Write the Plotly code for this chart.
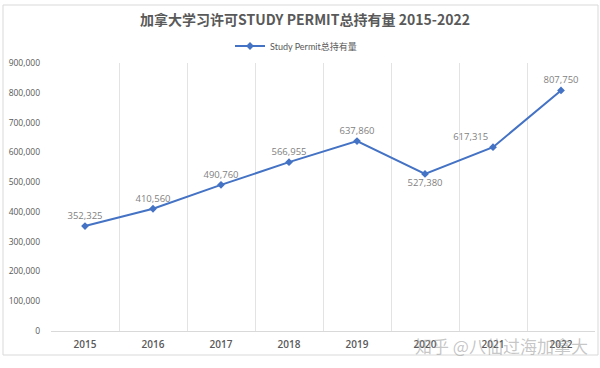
import plotly.graph_objects as go

years = ["2015", "2016", "2017", "2018", "2019", "2020", "2021", "2022"]
holders = [352325, 410560, 490760, 566955, 637860, 527380, 617315, 807750]
label_pos = ["top center", "top center", "top center", "top center",
             "top center", "bottom center", "top left", "top center"]
series_name = "Study Permit总持有量"
title_text = "加拿大学习许可STUDY PERMIT总持有量 2015-2022"

fig = go.Figure()
fig.add_trace(go.Scatter(
    x=years, y=holders, name=series_name,
    mode="lines+markers+text",
    line=dict(color="#4472C4", width=2),
    marker=dict(symbol="diamond", size=6, color="#4472C4"),
    text=[f"{v:,}" for v in holders],
    textposition=label_pos,
    textfont=dict(family="Open Sans, Noto Sans CJK SC", size=9.5, color="#7f7f7f"),
    showlegend=True,
))

W, H = 600, 368
L, R, T, B = 51, 5, 63, 37
pw, ph = W - L - R, H - T - B

def px(x):
    return (x - L) / pw

def py(y):
    return (H - B - y) / ph

fig.add_shape(type="rect", xref="paper", yref="paper",
              x0=px(3), x1=px(598), y0=py(355), y1=py(5),
              line=dict(color="#d9d9d9", width=1), fillcolor="rgba(0,0,0,0)", layer="below")

fig.add_annotation(text="知乎 @八仙过海加拿大", xref="paper", yref="paper",
                   x=px(501), y=py(345), xanchor="center", yanchor="middle", showarrow=False,
                   font=dict(family="Noto Sans CJK SC", size=17, color="rgba(150,150,150,0.55)"))

fig.update_layout(
    width=W, height=H,
    margin=dict(l=L, r=R, t=T, b=B, autoexpand=False),
    paper_bgcolor="white", plot_bgcolor="white",
    title=dict(text="<b>" + title_text + "</b>", x=305 / W, xref="container", xanchor="center",
               y=1 - 20 / H, yref="container", yanchor="middle",
               font=dict(family="Noto Sans CJK SC", size=14, color="#595959")),
    legend=dict(orientation="h", x=px(296), xref="paper", xanchor="center",
                y=py(46), yref="paper", yanchor="middle",
                font=dict(family="Lato, Noto Sans CJK SC", size=9, color="#595959"),
                bgcolor="rgba(0,0,0,0)"),
    xaxis=dict(type="category", tickson="boundaries", showgrid=True, gridcolor="#e3e3e3",
               gridwidth=1, showline=True, linecolor="#d9d9d9", linewidth=1, ticks="",
               range=[-0.5, 7.5], zeroline=False, automargin=False,
               ticklabelstandoff=4,
               tickfont=dict(family="Open Sans", size=10, color="#595959", weight=600)),
    yaxis=dict(range=[0, 900000], dtick=100000, tickformat=",", showgrid=False,
               showline=False, zeroline=False, ticks="", automargin=False,
               ticklabelstandoff=10,
               tickfont=dict(family="Open Sans", size=8.5, color="#595959")),
)

fig.write_html("out.html", config={"displayModeBar": False},
               post_script="document.body.style.margin='0';document.body.style.overflow='hidden';")
